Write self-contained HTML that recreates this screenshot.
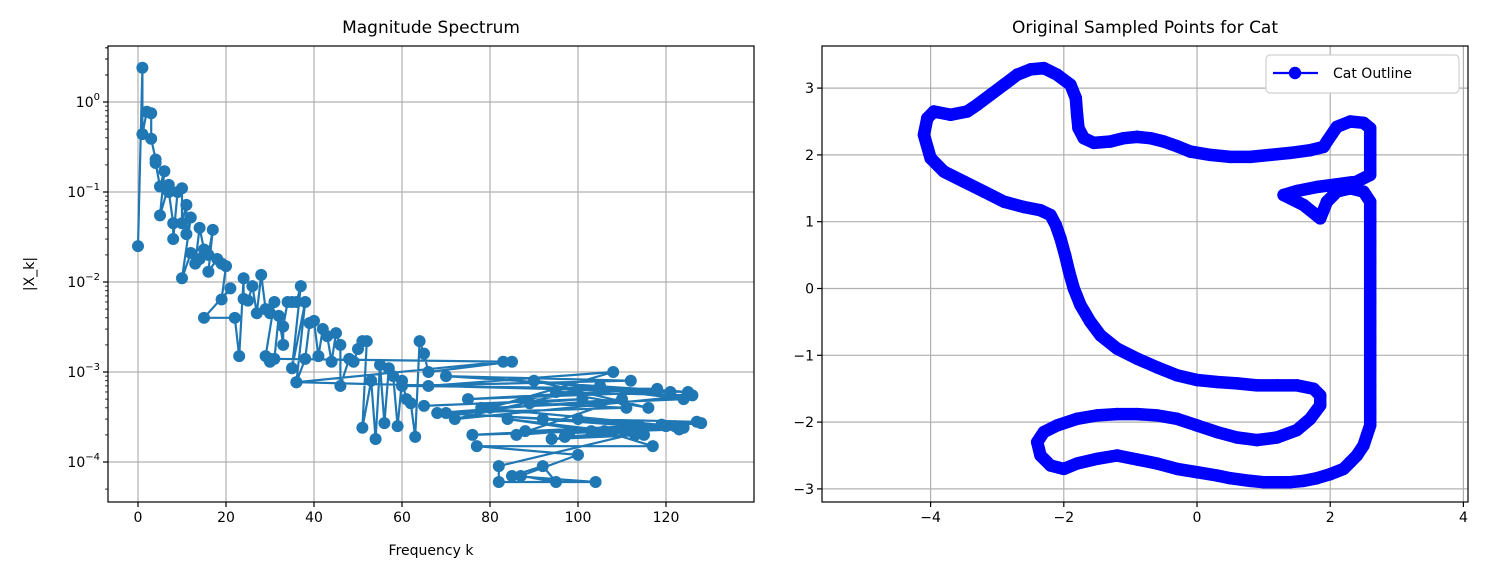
<!DOCTYPE html>
<html><head><meta charset="utf-8">
<style>
body{margin:0;background:#fff;font-family:"Liberation Sans","DejaVu Sans",sans-serif;}
svg text{font-family:"DejaVu Sans","Liberation Sans",sans-serif;}
</style></head>
<body>
<svg id="fig" width="1486" height="581" xmlns="http://www.w3.org/2000/svg">
<rect width="1486" height="581" fill="#fff"/>
</svg>
<script>
// ---- Left chart data ----
const specK = [0,1,1,2,3,3,4,4,5,6,5,7,7,8,8,9,10,10,11,11,12,10,12,13,14,15,14,16,17,16,18,19,20,19,21,15,22,23,24,24,25,26,27,28,29,30,31,29,30,31,32,33,33,34,35,36,37,35,38,36,38,39,40,41,42,43,44,45,46,46,48,49,50,51,52,51,53,54,55,56,57,58,59,60,61,62,63,64,65,66,
85,30,83,36,125,70,112,60,118,75,121,66,108,80,124,90,116,95,126,72,105,78,122,100,127,86,110,68,119,88,114,92,123,98,128,76,103,84,115,94,120,82,82,104,85,92,95,87,100,77,117,106,113,97,124,70,111,89,101,65];
const specMag = [0.025,2.4,0.44,0.78,0.75,0.39,0.23,0.21,0.115,0.17,0.055,0.12,0.1,0.045,0.03,0.1,0.11,0.045,0.072,0.034,0.052,0.011,0.021,0.016,0.04,0.023,0.018,0.02,0.038,0.013,0.018,0.016,0.015,0.0064,0.0085,0.004,0.004,0.0015,0.011,0.0065,0.0062,0.009,0.0045,0.012,0.005,0.0045,0.006,0.0015,0.0013,0.0014,0.0042,0.002,0.0032,0.006,0.006,0.006,0.009,0.0011,0.006,0.00077,0.0014,0.0035,0.0037,0.0015,0.003,0.0025,0.0013,0.0027,0.002,0.0007,0.0014,0.0013,0.0018,0.0022,0.0022,0.00024,0.0008,0.00018,0.0012,0.00027,0.0011,0.0009,0.00025,0.0008,0.0005,0.00045,0.00019,0.0022,0.0016,0.001,
0.0013,0.0014,0.0013,0.00077,0.0006,0.0009,0.0008,0.0007,0.00065,0.0005,0.0006,0.0007,0.001,0.0004,0.0005,0.0008,0.0004,0.0006,0.00055,0.0003,0.0007,0.0004,0.00025,0.0003,0.00028,0.0002,0.0005,0.00035,0.00026,0.00022,0.00025,0.0003,0.00023,0.00021,0.00027,0.0002,0.00022,0.0003,0.0002,0.00018,0.00025,0.00009,0.00006,0.00006,0.00007,0.00009,0.00006,0.00007,0.00012,0.00015,0.00015,0.00022,0.0002,0.00019,0.00024,0.00035,0.0004,0.00045,0.0005,0.00042];
const specXTicks = [0,20,40,60,80,100,120];
const specYExp = [-4,-3,-2,-1,0];

// ---- Right chart data ----
const catX = [1.3,1.6,1.85,1.95,2.1,2.3,2.5,2.6,2.6,2.6,2.6,2.6,2.6,2.6,2.6,2.6,2.6,2.6,2.6,2.6,2.6,2.55,2.5,2.4,2.3,2.2,2.0,1.8,1.6,1.4,1.2,1.0,0.8,0.5,0.3,0.0,-0.3,-0.6,-0.9,-1.2,-1.5,-1.8,-2.0,-2.2,-2.35,-2.4,-2.3,-2.1,-1.8,-1.5,-1.2,-0.9,-0.6,-0.3,0.0,0.3,0.6,0.9,1.2,1.5,1.7,1.85,1.85,1.75,1.5,1.2,0.9,0.6,0.3,0.0,-0.3,-0.6,-0.9,-1.2,-1.45,-1.6,-1.75,-1.85,-1.92,-1.98,-2.05,-2.12,-2.2,-2.35,-2.6,-2.9,-3.2,-3.5,-3.8,-4.0,-4.1,-4.05,-3.95,-3.7,-3.45,-3.3,-3.1,-2.9,-2.7,-2.5,-2.3,-2.1,-1.9,-1.82,-1.8,-1.78,-1.7,-1.55,-1.3,-1.1,-0.9,-0.7,-0.5,-0.3,-0.1,0.2,0.5,0.8,1.1,1.4,1.7,1.9,1.95,2.1,2.3,2.5,2.6,2.6,2.6,2.4,2.1,1.8,1.5,1.3];
const catY = [1.4,1.25,1.05,1.3,1.45,1.5,1.45,1.3,1.0,0.7,0.4,0.1,-0.2,-0.5,-0.75,-1.0,-1.2,-1.45,-1.65,-1.85,-2.05,-2.2,-2.35,-2.5,-2.6,-2.7,-2.78,-2.84,-2.88,-2.9,-2.9,-2.9,-2.88,-2.84,-2.8,-2.75,-2.7,-2.62,-2.56,-2.5,-2.55,-2.62,-2.7,-2.65,-2.5,-2.3,-2.15,-2.05,-1.95,-1.9,-1.88,-1.88,-1.9,-1.95,-2.05,-2.15,-2.23,-2.27,-2.23,-2.12,-1.95,-1.75,-1.6,-1.5,-1.45,-1.45,-1.45,-1.42,-1.4,-1.37,-1.3,-1.18,-1.05,-0.9,-0.7,-0.5,-0.25,0.0,0.25,0.5,0.75,0.95,1.1,1.17,1.22,1.3,1.45,1.6,1.75,1.95,2.3,2.55,2.65,2.6,2.65,2.75,2.9,3.05,3.2,3.28,3.3,3.2,3.05,2.85,2.6,2.4,2.25,2.18,2.2,2.25,2.27,2.25,2.2,2.13,2.05,2.0,1.97,1.97,2.0,2.03,2.07,2.12,2.2,2.42,2.5,2.48,2.4,2.0,1.7,1.6,1.56,1.52,1.46,1.4];
const catXTicks = [-4,-2,0,2,4];
const catYTicks = [-3,-2,-1,0,1,2,3];

const NS='http://www.w3.org/2000/svg';
const svg=document.getElementById('fig');
function mk(tag,attrs,parent){const e=document.createElementNS(NS,tag);for(const k in attrs)e.setAttribute(k,attrs[k]);(parent||svg).appendChild(e);return e;}

// ---- Left chart ----
const L={x0:108,x1:754,y0:46,y1:502};
const lx=k=>138+(k-0)*(666-138)/120;
const ly=v=>372-(Math.log10(v)+3)*90;
const gL=mk('g',{});


specXTicks.forEach(t=>{const x=lx(t);
 const gl=mk('line',{x1:x,x2:x,y1:L.y0,y2:L.y1,stroke:'#b0b0b0','stroke-width':1.2},gL);
 
 mk('line',{x1:x,x2:x,y1:L.y1,y2:L.y1+5,stroke:'#000','stroke-width':1.2},gL);
 const tx=mk('text',{x:x,y:L.y1+20,'text-anchor':'middle','font-size':14},gL);tx.textContent=t;
 
});
specYExp.forEach(e=>{const y=ly(Math.pow(10,e));
 const gl=mk('line',{x1:L.x0,x2:L.x1,y1:y,y2:y,stroke:'#b0b0b0','stroke-width':1.2},gL);
 
 mk('line',{x1:L.x0-5,x2:L.x0,y1:y,y2:y,stroke:'#000','stroke-width':1.2},gL);
 const tx=mk('text',{x:L.x0-8,y:y+5,'text-anchor':'end','font-size':14},gL);
 tx.innerHTML='10<tspan dy="-7" font-size="10">'+(e<0?'\u2212'+(-e):e)+'</tspan>';
 
 for(let m=2;m<10;m++){const yy=ly(m*Math.pow(10,e));if(yy>L.y0&&yy<L.y1)mk('line',{x1:L.x0-3,x2:L.x0,y1:yy,y2:yy,stroke:'#000','stroke-width':0.8},gL);}
});
{const yy=ly(0.00005);mk('line',{x1:L.x0-3,x2:L.x0,y1:yy,y2:yy,stroke:'#000','stroke-width':0.8},gL);
 for(let m=2;m<5;m++){const y2=ly(m);mk('line',{x1:L.x0-3,x2:L.x0,y1:y2,y2:y2,stroke:'#000','stroke-width':0.8},gL);}}
let pd='';specK.forEach((k,i)=>{pd+=(i?'L':'M')+lx(k).toFixed(1)+','+ly(specMag[i]).toFixed(1);});
const sl=mk('path',{d:pd,fill:'none',stroke:'#1f77b4','stroke-width':2.2,'stroke-linejoin':'round'},gL);

specK.forEach((k,i)=>{const c=mk('circle',{cx:lx(k),cy:ly(specMag[i]),r:6,fill:'#1f77b4'},gL);
 });
const fr=mk('rect',{x:L.x0,y:L.y0,width:L.x1-L.x0,height:L.y1-L.y0,fill:'none',stroke:'#000','stroke-width':1.2},gL);

let t=mk('text',{x:431,y:33,'text-anchor':'middle','font-size':17},gL);t.textContent='Magnitude Spectrum';

t=mk('text',{x:431,y:555,'text-anchor':'middle','font-size':14},gL);t.textContent='Frequency k';

t=mk('text',{x:34,y:274,'text-anchor':'middle','font-size':14,transform:'rotate(-90 34 274)'},gL);t.textContent='|X_k|';


// ---- Right chart ----
const R={x0:822,x1:1468,y0:46,y1:502};
const rx=v=>1197+v*66.6;
const ry=v=>288.5-v*66.8;
const gR=mk('g',{});


catXTicks.forEach(v=>{const x=rx(v);
 const gl=mk('line',{x1:x,x2:x,y1:R.y0,y2:R.y1,stroke:'#b0b0b0','stroke-width':1.2},gR);
 
 mk('line',{x1:x,x2:x,y1:R.y1,y2:R.y1+5,stroke:'#000','stroke-width':1.2},gR);
 const tx=mk('text',{x:x,y:R.y1+20,'text-anchor':'middle','font-size':14},gR);tx.textContent=v<0?'\u2212'+(-v):v;
 
});
catYTicks.forEach(v=>{const y=ry(v);
 const gl=mk('line',{x1:R.x0,x2:R.x1,y1:y,y2:y,stroke:'#b0b0b0','stroke-width':1.2},gR);
 
 mk('line',{x1:R.x0-5,x2:R.x0,y1:y,y2:y,stroke:'#000','stroke-width':1.2},gR);
 const tx=mk('text',{x:R.x0-8,y:y+5,'text-anchor':'end','font-size':14},gR);tx.textContent=v<0?'\u2212'+(-v):v;
 
});
let cd='';catX.forEach((x,i)=>{cd+=(i?'L':'M')+rx(x).toFixed(1)+','+ry(catY[i]).toFixed(1);});
const band=mk('path',{d:cd,fill:'none',stroke:'#0000ff','stroke-width':12.5,'stroke-linejoin':'round','stroke-linecap':'round'},gR);

catX.forEach((x,i)=>{const c=mk('circle',{cx:rx(x),cy:ry(catY[i]),r:6.2,fill:'#0000ff'},gR);
 });
const fr2=mk('rect',{x:R.x0,y:R.y0,width:R.x1-R.x0,height:R.y1-R.y0,fill:'none',stroke:'#000','stroke-width':1.2},gR);

t=mk('text',{x:1145,y:33,'text-anchor':'middle','font-size':17},gR);t.textContent='Original Sampled Points for Cat';

const lg=mk('g',{},gR);

mk('rect',{x:1266,y:55,width:193,height:38,rx:4,fill:'#fff',stroke:'#d0d0d0','stroke-width':1.2},lg);
mk('line',{x1:1273,x2:1318,y1:73,y2:73,stroke:'#0000ff','stroke-width':2.2},lg);
mk('circle',{cx:1295,cy:73,r:6.2,fill:'#0000ff'},lg);
t=mk('text',{x:1333,y:78,'font-size':14},lg);t.textContent='Cat Outline';

</script>
</body></html>
